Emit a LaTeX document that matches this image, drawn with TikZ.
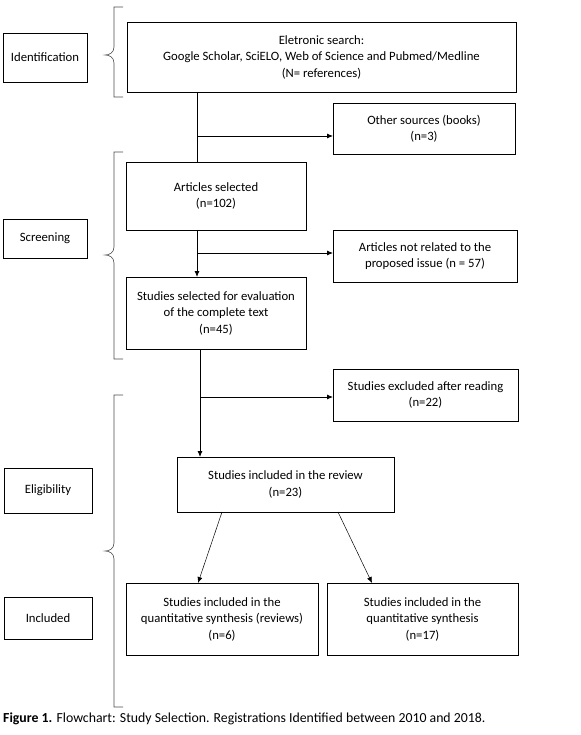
\documentclass[tikz,border=0pt]{standalone}
\usepackage{fontspec}
\setmainfont{Carlito}
\usetikzlibrary{arrows.meta}

\tikzset{
  stepbox/.style = {draw, line width=0.8pt, anchor=north west, align=center,
    inner sep=0pt, outer sep=0pt, font=\fontsize{12.7}{16.5}\selectfont},
  flow/.style = {line width=0.8pt, -{Latex[length=6pt,width=5pt]}},
  thinflow/.style = {line width=0.5pt, -{Latex[length=6pt,width=5pt]}},
  brace/.style = {line width=0.6pt, black!70}
}

% bracket for a phase: top, tip, bottom
\newcommand{\stagebrace}[3]{%
  \draw[brace] (123,#1) -- (114,#1) -- (114,#2-8)
    .. controls (114,#2-2) and (109,#2) .. (105,#2)
    .. controls (109,#2) and (114,#2+2) .. (114,#2+8)
    -- (114,#3) -- (123,#3);}

\begin{document}
\begin{tikzpicture}[x=1pt, y=-1pt]
  \useasboundingbox (0,0) rectangle (580,735);

  % phases
  \node[stepbox, minimum width=84pt, minimum height=49pt] (ident) at (3,33) {Identification};
  \node[stepbox, minimum width=84pt, minimum height=39pt] (screen) at (3,219) {Screening};
  \node[stepbox, minimum width=88pt, minimum height=45pt] (elig) at (4,468) {Eligibility};
  \node[stepbox, minimum width=88pt, minimum height=42pt] (incl) at (4,597) {Included};

  \stagebrace{7}{55}{97}
  \stagebrace{152}{255}{359}
  \stagebrace{395}{551}{707}

  % flow boxes
  \node[stepbox, minimum width=389pt, minimum height=70pt] (search) at (127,22)
    {Eletronic search:\\ Google Scholar, SciELO, Web of Science and Pubmed/Medline\\ (N= references)};
  \node[stepbox, minimum width=182pt, minimum height=51pt] (other) at (333,103)
    {Other sources (books)\\ (n=3)};
  \node[stepbox, minimum width=180pt, minimum height=68pt] (selected) at (126,162)
    {Articles selected\\ (n=102)};
  \node[stepbox, minimum width=184pt, minimum height=52pt] (notrel) at (333,230)
    {Articles not related to the\\ proposed issue (n = 57)};
  \node[stepbox, minimum width=180pt, minimum height=72pt] (evaluated) at (126,277)
    {Studies selected for evaluation\\ of the complete text\\ (n=45)};
  \node[stepbox, minimum width=185pt, minimum height=52pt] (excluded) at (333,369)
    {Studies excluded after reading\\ (n=22)};
  \node[stepbox, minimum width=217pt, minimum height=55pt] (review) at (177,457)
    {Studies included in the review\\ (n=23)};
  \node[stepbox, minimum width=192pt, minimum height=72pt] (reviews) at (126,583)
    {Studies included in the\\ quantitative synthesis (reviews)\\ (n=6)};
  \node[stepbox, minimum width=191pt, minimum height=72pt] (quant) at (327,583)
    {Studies included in the\\ quantitative synthesis\\ (n=17)};

  % connectors
  \coordinate (spineA) at (197,0);
  \coordinate (spineB) at (200,0);
  \coordinate (b1) at (197,136);
  \coordinate (b2) at (197,253);
  \coordinate (b3) at (200,397);

  \draw[line width=0.8pt] (search.south -| spineA) -- (selected.north -| spineA);
  \draw[flow] (b1) -- (b1 -| other.west);
  \draw[flow] (selected.south -| spineA) -- (evaluated.north -| spineA);
  \draw[flow] (b2) -- (b2 -| notrel.west);
  \draw[flow] (evaluated.south -| spineB) -- (review.north -| spineB);
  \draw[flow] (b3) -- (b3 -| excluded.west);

  \coordinate (d1) at (222,512);
  \coordinate (d2) at (338,512);
  \draw[thinflow] (d1) -- (reviews.north west -| 198,0);
  \draw[thinflow] (d2) -- (quant.north west -| 372,0);

  % caption
  \node[anchor=west, inner sep=0pt, font=\fontsize{13.8}{16}\selectfont] (caption) at (3,719)
    {\textbf{Figure 1.} Flowchart: Study Selection. Registrations Identified between 2010 and 2018.};
\end{tikzpicture}
\end{document}
